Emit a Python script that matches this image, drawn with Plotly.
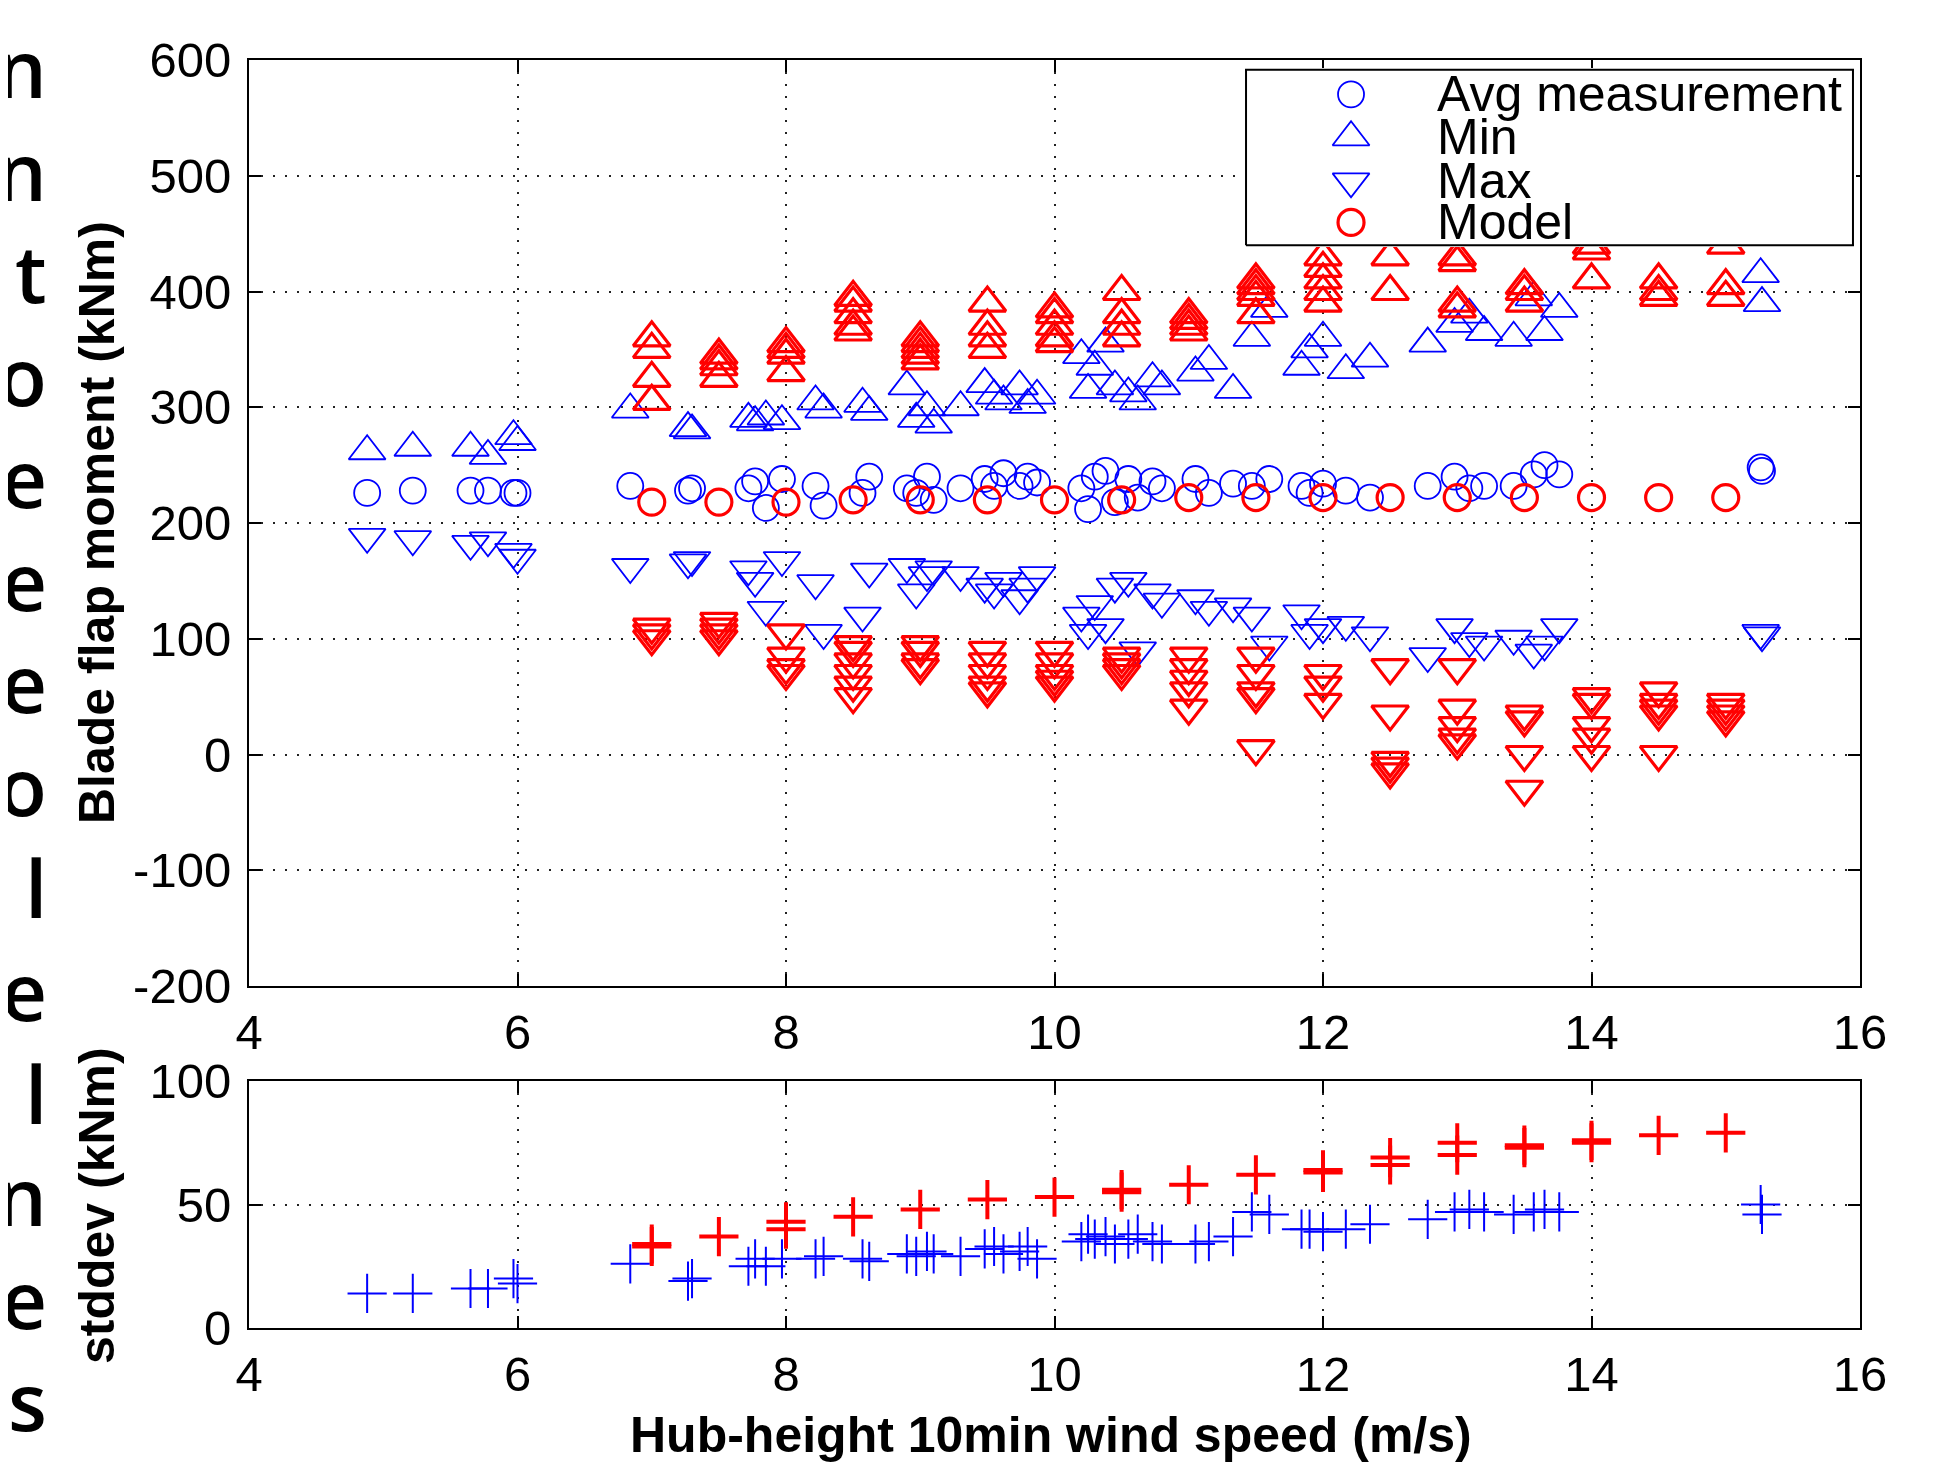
import plotly.graph_objects as go

# measurement bins (blue): wind speed, avg / min / max moment, stddev
meas_ws = [4.88, 5.22, 5.65, 5.78, 5.97, 6.0, 6.84, 7.27, 7.3, 7.72, 7.77, 7.85, 7.97,
           8.22, 8.28, 8.57, 8.62, 8.9, 8.97, 9.05, 9.1, 9.3, 9.48, 9.55, 9.62, 9.74,
           9.8, 9.87, 10.2, 10.25, 10.3, 10.38, 10.45, 10.55, 10.62, 10.73, 10.8,
           11.05, 11.15, 11.33, 11.47, 11.6, 11.84, 11.9, 12.0, 12.17, 12.35, 12.78,
           12.98, 13.09, 13.2, 13.42, 13.57, 13.65, 13.76, 15.26, 15.27]
meas_avg = [226, 228, 228, 228, 226, 226, 232, 228, 230, 230, 236, 213, 238,
            232, 215, 226, 240, 230, 226, 240, 220, 230, 238, 232, 243, 232,
            240, 235, 230, 212, 240, 245, 218, 238, 222, 236, 230,
            238, 226, 234, 232, 238, 232, 226, 234, 228, 222, 232,
            240, 230, 232, 232, 242, 250, 242, 248, 245]
meas_min = [262, 265, 265, 258, 275, 270, 298, 282, 280, 290, 287, 292, 288,
            305, 298, 303, 296, 318, 290, 300, 285, 300, 320, 310, 305, 318,
            302, 310, 345, 315, 335, 355, 318, 312, 305, 325, 318,
            330, 340, 315, 360, 385, 335, 350, 360, 332, 342, 355,
            372, 380, 365, 360, 395, 365, 385, 415, 390]
meas_max = [188, 186, 182, 185, 175, 170, 162, 166, 168, 160, 150, 125, 168,
            148, 105, 120, 158, 162, 140, 155, 160, 155, 145, 140, 150, 135,
            145, 155, 120, 105, 130, 110, 145, 150, 90, 140, 132,
            135, 125, 128, 120, 95, 122, 105, 110, 112, 103, 85,
            110, 98, 95, 100, 88, 95, 110, 105, 103]
meas_std = [14, 14, 16, 16, 20, 18, 26, 19, 20, 25, 28, 25, 28,
            28, 29, 28, 27, 30, 29, 31, 30, 29, 32, 33, 30, 31,
            33, 28, 35, 38, 36, 37, 34, 36, 38, 35, 34,
            34, 35, 37, 47, 46, 40, 40, 39, 40, 42, 44,
            47, 48, 47, 46, 47, 48, 47, 50, 46]

# model (red): one avg per wind speed, several min / max / std per wind speed
model_ws = [7, 7.5, 8, 8.5, 9, 9.5, 10, 10.5, 11, 11.5, 12, 12.5, 13, 13.5, 14, 14.5, 15]
model_avg = [218, 218, 218, 220, 220, 220, 220, 220, 222, 222, 222, 222, 222, 222, 222, 222, 222]
model_min = [[360, 350, 325, 305], [345, 340, 335, 325], [355, 350, 345, 330],
             [395, 390, 380, 370, 365], [360, 355, 350, 345, 340], [390, 370, 360, 350],
             [385, 380, 370, 360, 355], [400, 380, 370, 360], [380, 375, 370, 365],
             [410, 405, 400, 395, 380], [430, 420, 410, 400, 390], [430, 400],
             [430, 425, 390, 385], [405, 400, 390], [440, 435, 410],
             [410, 400, 395], [440, 405, 395]]
model_max = [[110, 105, 100], [115, 110, 105, 100], [105, 85, 75, 70],
             [95, 90, 80, 70, 60, 50], [95, 90, 80, 75], [90, 80, 70, 60, 55],
             [90, 80, 70, 65, 60], [85, 80, 75, 70], [85, 75, 65, 55, 40],
             [85, 70, 55, 50, 5], [70, 60, 45], [75, 35, -5, -10, -15],
             [75, 40, 25, 15, 10], [35, 30, 0, -30], [50, 45, 25, 15, 0],
             [55, 45, 40, 35, 0], [45, 40, 35, 30]]
model_std = [[33, 34], [37], [43, 40], [45], [48], [52], [53], [55, 56], [58], [62],
             [63, 64], [66, 69], [70, 75], [73, 74], [75, 76], [78], [79]]

x_ticks = [4, 6, 8, 10, 12, 14, 16]
y_ticks = [-200, -100, 0, 100, 200, 300, 400, 500, 600]
std_ticks = [0, 50, 100]
legend_labels = ["Avg measurement", "Min", "Max", "Model"]
side_letters = ["n", "n", "t", "o", "e", "e", "e", "o", "l", "e", "l", "n", "e", "s"]


def flatten(groups):
    xs, ys = [], []
    for ws, vals in zip(model_ws, groups):
        xs += [ws] * len(vals)
        ys += vals
    return xs, ys


BLUE = "#0000ff"
RED = "#ff0000"
FONT = "Liberation Sans"

# page body has an 8px margin, so the figure starts at (8, 8) in the window
OFF = 8
W, H = 1953 - OFF, 1466 - OFF
L, R, T, B = 249 - OFF, 93, 60 - OFF, 138
PW, PH = W - L - R, H - T - B


def px(x):
    # window pixel -> paper x
    return (x - OFF - L) / PW


def py(y):
    # window pixel -> paper y
    return (H - B - (y - OFF)) / PH


fig = go.Figure()


def mk(symbol, color, size, width):
    return dict(symbol=symbol, size=size, color=color,
                line=dict(color=color, width=width))


CIRC, TRI, CROSS = 26, 32, 28
BLW, RLW = 1.8, 3.2

# measurements first, model on top
fig.add_trace(go.Scatter(x=meas_ws, y=meas_avg, mode="markers",
                         marker=mk("circle-open", BLUE, CIRC, BLW)))
fig.add_trace(go.Scatter(x=meas_ws, y=meas_min, mode="markers",
                         marker=mk("triangle-up-open", BLUE, TRI, BLW)))
fig.add_trace(go.Scatter(x=meas_ws, y=meas_max, mode="markers",
                         marker=mk("triangle-down-open", BLUE, TRI, BLW)))
fig.add_trace(go.Scatter(x=meas_ws, y=meas_std, mode="markers", xaxis="x2", yaxis="y2",
                         marker=mk("cross-thin-open", BLUE, CROSS, 2)))

mx, my = flatten(model_min)
fig.add_trace(go.Scatter(x=mx, y=my, mode="markers",
                         marker=mk("triangle-up-open", RED, TRI, RLW)))
mx, my = flatten(model_max)
fig.add_trace(go.Scatter(x=mx, y=my, mode="markers",
                         marker=mk("triangle-down-open", RED, TRI, RLW)))
fig.add_trace(go.Scatter(x=model_ws, y=model_avg, mode="markers",
                         marker=mk("circle-open", RED, CIRC, RLW)))
mx, my = flatten(model_std)
fig.add_trace(go.Scatter(x=mx, y=my, mode="markers", xaxis="x2", yaxis="y2",
                         marker=mk("cross-thin-open", RED, CROSS, 4)))

# hand-made legend box on an overlay axis (MATLAB legend is tighter than plotly's)
box_x0, box_x1 = px(1243), px(1856)
box_y0, box_y1 = py(247), py(68)
fig.add_trace(go.Scatter(x=[0, 1, 1, 0, 0], y=[0, 0, 1, 1, 0], mode="lines",
                         fill="toself", fillcolor="white",
                         line=dict(color="black", width=2),
                         xaxis="x3", yaxis="y3", hoverinfo="skip"))
leg_rows = [0.86, 0.615, 0.364, 0.13]
leg_sym = [("circle-open", BLUE, CIRC, BLW), ("triangle-up-open", BLUE, TRI, BLW),
           ("triangle-down-open", BLUE, TRI, BLW), ("circle-open", RED, CIRC, RLW)]
for row, (s, c, sz, w) in zip(leg_rows, leg_sym):
    fig.add_trace(go.Scatter(x=[0.173], y=[row], mode="markers", marker=mk(s, c, sz, w),
                             xaxis="x3", yaxis="y3", hoverinfo="skip"))

annotations = []
for row, lab in zip(leg_rows, legend_labels):
    annotations.append(dict(x=0.312, y=row, xref="x3", yref="y3", text=lab,
                            showarrow=False, xanchor="left", yanchor="middle",
                            font=dict(family=FONT, size=50, color="black")))

# axis titles
title_font = dict(family=FONT, size=50, color="black")
annotations += [
    dict(x=px(97), y=py(523), xref="paper", yref="paper", text="<b>Blade flap moment (kNm)</b>",
         textangle=-90, showarrow=False, xanchor="center", yanchor="middle", font=title_font),
    dict(x=px(97), y=py(1206), xref="paper", yref="paper", text="<b>stddev (kNm)</b>",
         textangle=-90, showarrow=False, xanchor="center", yanchor="middle", font=title_font),
    dict(x=px(1051), y=py(1435), xref="paper", yref="paper",
         text="<b>Hub-height 10min wind speed (m/s)</b>",
         showarrow=False, xanchor="center", yanchor="middle", font=title_font),
]

# cropped slide text at the left edge
for i, ch in enumerate(side_letters):
    annotations.append(dict(x=px(49), y=py(67 + i * 102.5), xref="paper", yref="paper",
                            text=ch, showarrow=False, xanchor="right", yanchor="middle",
                            font=dict(family="Open Sans", size=80, color="black", weight=600)))

axis_common = dict(showline=True, linecolor="black", linewidth=2, mirror="ticks",
                   ticks="inside", ticklen=12, tickwidth=2, tickcolor="black",
                   showgrid=True, gridcolor="#222", gridwidth=2, griddash="2px,10px",
                   zeroline=False, tickfont=dict(family=FONT, size=49, color="black"))

x_text = [str(v) for v in x_ticks]

fig.update_layout(
    width=W, height=H,
    margin=dict(l=L, r=R, t=T, b=B),
    paper_bgcolor="white", plot_bgcolor="white",
    showlegend=False,
    xaxis=dict(domain=[0, 1], range=[4, 16], tickvals=x_ticks, ticktext=x_text, anchor="y",
               ticklabelstandoff=2, **axis_common),
    yaxis=dict(domain=[py(986), 1], range=[-200, 600], tickvals=y_ticks,
               ticktext=[str(v) for v in y_ticks], anchor="x",
               ticklabelstandoff=6, **axis_common),
    xaxis2=dict(domain=[0, 1], range=[4, 16], tickvals=x_ticks, ticktext=x_text, anchor="y2",
                ticklabelstandoff=2, **axis_common),
    yaxis2=dict(domain=[0, py(1081)], range=[0, 100], tickvals=std_ticks,
                ticktext=[str(v) for v in std_ticks], anchor="x2",
                ticklabelstandoff=6, **axis_common),
    xaxis3=dict(domain=[box_x0, box_x1], range=[-0.005, 1.005], anchor="y3", visible=False),
    yaxis3=dict(domain=[box_y0, box_y1], range=[-0.01, 1.01], anchor="x3", visible=False),
    annotations=annotations,
)

fig.write_html("out.html")
